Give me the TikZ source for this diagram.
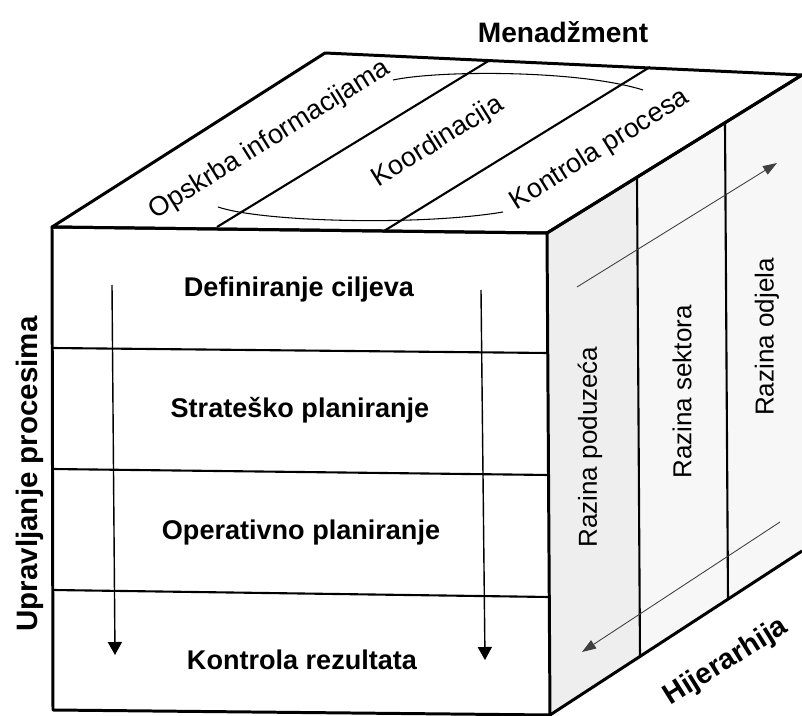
\documentclass[tikz,border=0pt]{standalone}
\usepackage{fontspec}
\setmainfont{Liberation Sans}
\usetikzlibrary{arrows.meta}

\begin{document}
\begin{tikzpicture}[x=0.02cm, y=-0.02cm,
    cubeedge/.style={line width=1.7pt, line join=round},
    divline/.style={line width=1.2pt},
    flowarrow/.style={line width=0.8pt, -{Triangle[length=7.4pt, width=8pt]}},
    levelarrow/.style={line width=0.5pt, draw=black!75, -{Triangle[length=8pt, width=5.5pt]}},
    boldlabel/.style={font=\fontsize{15.4}{18}\selectfont\bfseries},
    toplabel/.style={font=\fontsize{15.4}{18}\selectfont, rotate=32},
    levellabel/.style={font=\fontsize{14.8}{18}\selectfont, rotate=90}]
    \useasboundingbox (0,0) rectangle (802,716);

    % corners of the cube
    \coordinate (FTL) at (52,227);
    \coordinate (FTR) at (547,233);
    \coordinate (FBL) at (53,710);
    \coordinate (FBR) at (550,715);
    \coordinate (BTL) at (325,53);
    \coordinate (BTR) at (802,75);
    \coordinate (BBR) at (802,551);
    \coordinate (s1t) at (637,177);
    \coordinate (s1b) at (640,658);
    \coordinate (s2t) at (725,123);
    \coordinate (s2b) at (728,600);

    % right face
    \fill[gray!6] (FTR) -- (BTR) -- (BBR) -- (FBR) -- cycle;
    \fill[gray!13] (FTR) -- (s1t) -- (s1b) -- (FBR) -- cycle;
    \draw[divline] (s1t) -- (s1b);
    \draw[divline] (s2t) -- (s2b);

    % top face
    \draw[divline] (217,227) -- (490,60);
    \draw[divline] (384,231) -- (650,67);
    \draw[line width=0.6pt] (218,207) .. controls (262,222) and (420,226) .. (503,212);
    \draw[line width=0.6pt] (393,80) .. controls (440,70) and (580,70) .. (643,90);

    % front face
    \draw[divline] (52,348) -- (548,353);
    \draw[divline] (52,469) -- (549,475);
    \draw[divline] (53,590) -- (549,597);

    \draw[cubeedge] (FTL) -- (BTL) -- (BTR) -- (FTR) -- cycle;
    \draw[cubeedge] (FTL) -- (FTR) -- (FBR) -- (FBL) -- cycle;
    \draw[cubeedge] (FTR) -- (BTR);
    \draw[cubeedge] (FBR) -- (BBR);

    % arrows
    \coordinate (la1) at (112,285);
    \coordinate (la2) at (115,655);
    \coordinate (ra1) at (481,290);
    \coordinate (ra2) at (485,660);
    \coordinate (ua1) at (577,287);
    \coordinate (ua2) at (777,163);
    \coordinate (da1) at (780,522);
    \coordinate (da2) at (582,652);
    \draw[flowarrow] (la1) -- (la2);
    \draw[flowarrow] (ra1) -- (ra2);
    \draw[levelarrow] (ua1) -- (ua2);
    \draw[levelarrow] (da1) -- (da2);

    % labels
    \node(def)[boldlabel] at (299,290) {Definiranje ciljeva};
    \node(strat)[boldlabel] at (300,410) {Strateško planiranje};
    \node(oper)[boldlabel] at (301,533) {Operativno planiranje};
    \node(kontr)[boldlabel] at (302,660) {Kontrola rezultata};
    \node(mgmt)[boldlabel, font=\fontsize{16}{18}\selectfont\bfseries] at (563,32) {Menadžment};
    \node(upr)[boldlabel, font=\fontsize{16.8}{18}\selectfont\bfseries, rotate=90] at (30,474) {Upravljanje procesima};
    \node(hij)[boldlabel, font=\fontsize{16.3}{18}\selectfont\bfseries, rotate=32] at (726,662) {Hijerarhija};

    \node(opskrba)[toplabel] at (270,140) {Opskrba informacijama};
    \node(koord)[toplabel] at (438,142) {Koordinacija};
    \node(kproc)[toplabel] at (600,150) {Kontrola procesa};

    \node(rpod)[levellabel] at (590,447) {Razina poduzeća};
    \node(rsek)[levellabel] at (682,392) {Razina sektora};
    \node(rodj)[levellabel] at (767,337) {Razina odjela};
\end{tikzpicture}
\end{document}
